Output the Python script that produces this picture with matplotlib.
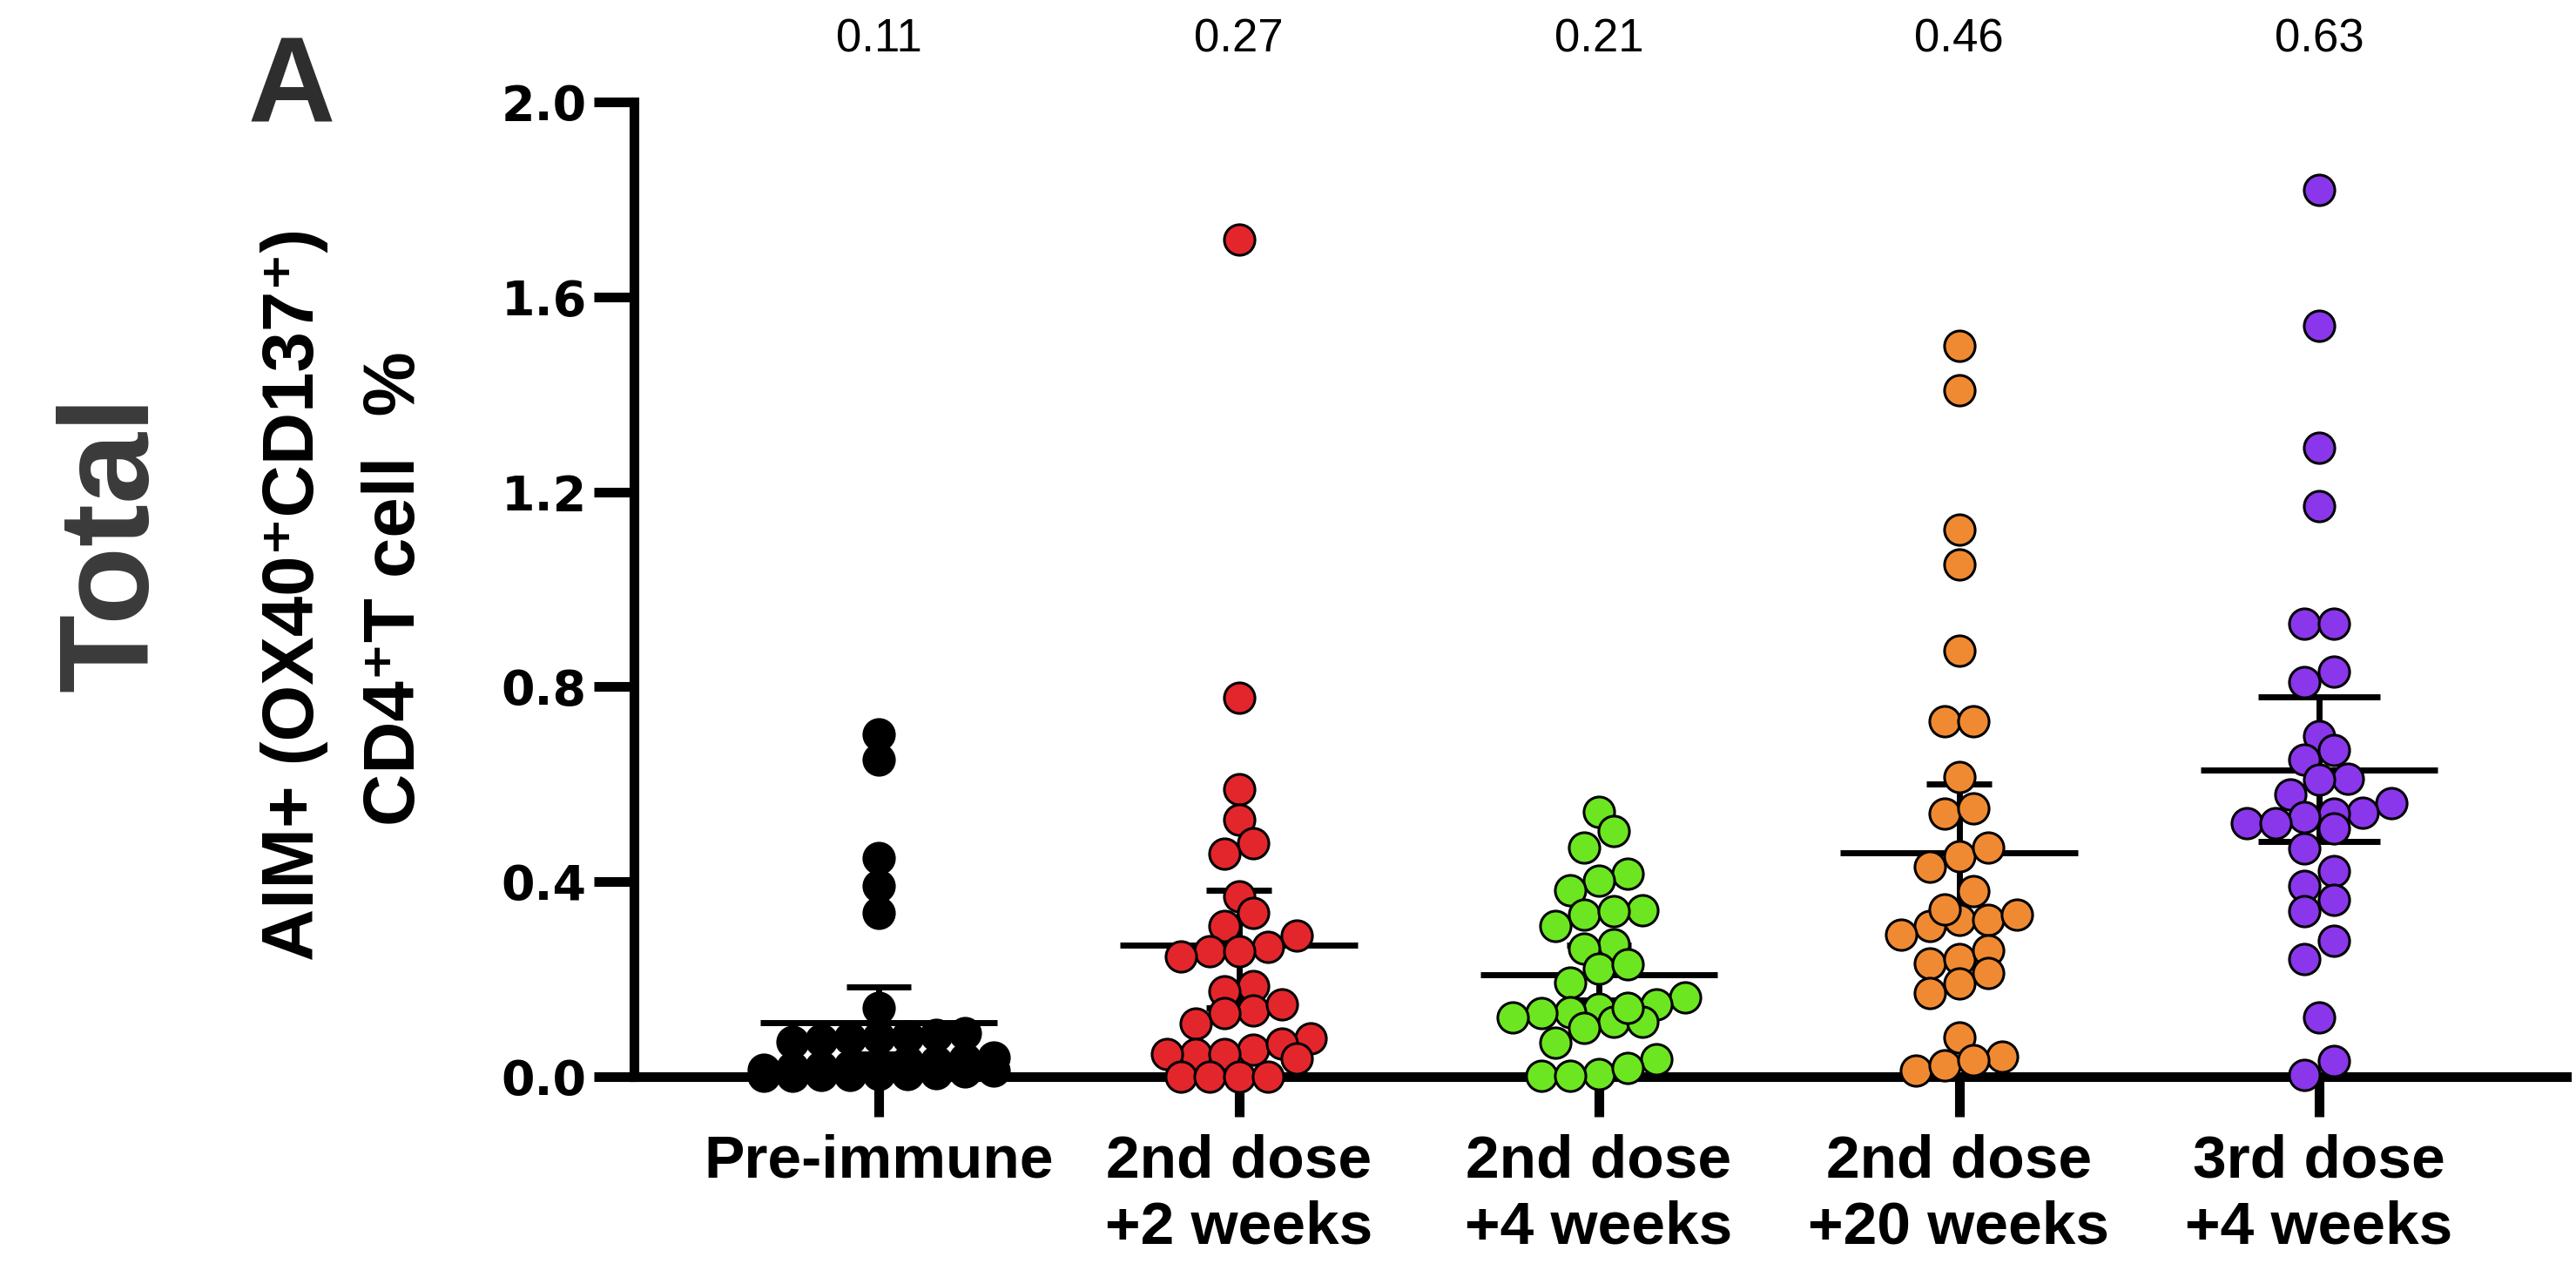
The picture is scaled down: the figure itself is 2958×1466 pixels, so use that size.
import numpy as np
import matplotlib
matplotlib.use("Agg")
import matplotlib.pyplot as plt
import matplotlib.transforms as mtransforms

# ---------------- data ----------------
categories = ["Pre-immune", "2nd dose\n+2 weeks", "2nd dose\n+4 weeks",
              "2nd dose\n+20 weeks", "3rd dose\n+4 weeks"]

pre_immune = [0.703, 0.651, 0.449, 0.392, 0.336, 0.141,
              0.090, 0.085, 0.082, 0.080, 0.078, 0.075, 0.072,
              0.040, 0.035, 0.030, 0.030, 0.025, 0.022, 0.020, 0.018, 0.015,
              0.012, 0.010, 0.008, 0.006, 0.005, 0.004, 0.003, 0.002, 0.001]

dose2_2w = [1.718, 0.778, 0.590, 0.528, 0.479, 0.457, 0.370, 0.336, 0.309, 0.290,
            0.257, 0.266, 0.247, 0.257, 0.185, 0.176, 0.136, 0.131, 0.148, 0.109,
            0.078, 0.056, 0.047, 0.047, 0.046, 0.068, 0.037, 0.0, 0.0, 0.0, 0.0]

dose2_4w = [0.544, 0.504, 0.470, 0.416, 0.403, 0.383, 0.341, 0.332, 0.340, 0.309,
            0.272, 0.262, 0.222, 0.231, 0.193, 0.163, 0.148, 0.139, 0.133, 0.112,
            0.112, 0.130, 0.142, 0.100, 0.121, 0.070, 0.035, 0.005, 0.002, 0.002, 0.017]

dose2_20w = [1.500, 1.408, 1.122, 1.051, 0.874, 0.729, 0.729, 0.615, 0.539, 0.550,
             0.453, 0.470, 0.431, 0.381, 0.321, 0.321, 0.310, 0.332, 0.344, 0.291,
             0.232, 0.241, 0.260, 0.171, 0.191, 0.213, 0.081, 0.042, 0.012, 0.023, 0.034]

dose3_4w = [1.819, 1.540, 1.291, 1.171, 0.930, 0.930, 0.831, 0.810, 0.699, 0.671,
            0.650, 0.612, 0.609, 0.579, 0.561, 0.541, 0.539, 0.533, 0.521, 0.521,
            0.509, 0.469, 0.422, 0.391, 0.362, 0.340, 0.279, 0.241, 0.122, 0.033, 0.004]

groups = [pre_immune, dose2_2w, dose2_4w, dose2_20w, dose3_4w]

means = [0.11, 0.27, 0.21, 0.46, 0.63]
ci_low = [0.046, 0.141, 0.157, 0.316, 0.483]
ci_high = [0.184, 0.383, 0.270, 0.600, 0.779]

colors = ["#000000", "#E3262B", "#6CE620", "#F08A32", "#8A36EB"]
cap_half = [0.09, 0.09, 0.09, 0.09, 0.17]

yticks = [0.0, 0.4, 0.8, 1.2, 1.6, 2.0]

# ---------------- figure ----------------
W, H, DPI = 2958, 1466, 100
fig = plt.figure(figsize=(W / DPI, H / DPI), dpi=DPI)
fig.patch.set_facecolor("white")

left_px, right_px, y0_px, y2_px = 728, 2947, 1236, 117
ax = fig.add_axes([left_px / W, 1 - y0_px / H, (right_px - left_px) / W, (y0_px - y2_px) / H])

cat_px0, cat_step = 1009, 413.5
xl = (left_px - cat_px0) / cat_step
xr = (right_px - cat_px0) / cat_step
ax.set_xlim(xl, xr)
ax.set_ylim(0, 2.0)


def swarm_offsets(vals, bin_h=0.045, step=0.08, max_cols=9):
    vals = np.asarray(vals, dtype=float)
    order = np.argsort(vals, kind="stable")
    offs = np.zeros(len(vals))
    bins, cur, start = [], [], None
    for idx in order:
        v = vals[idx]
        if cur and (v - start >= bin_h or len(cur) >= max_cols):
            bins.append(cur)
            cur = []
        if not cur:
            start = v
        cur.append(idx)
    if cur:
        bins.append(cur)
    for b in bins:
        k = len(b)
        slots = (np.arange(k) - (k - 1) / 2) * step
        for idx, s in zip(b, slots):
            offs[idx] = s
    return offs


mean_half = 0.33
for i, (vals, c) in enumerate(zip(groups, colors)):
    offs = swarm_offsets(vals)
    ax.scatter(i + offs, vals, s=640, c=c, edgecolors="black", linewidths=2.2,
               zorder=4, clip_on=False)
    # mean line
    ax.plot([i - mean_half, i + mean_half], [means[i], means[i]], color="black",
            lw=5, solid_capstyle="butt", zorder=3)
    # error bar (95% CI)
    ax.plot([i, i], [ci_low[i], ci_high[i]], color="black", lw=5, zorder=3)
    for yv in (ci_low[i], ci_high[i]):
        ax.plot([i - cap_half[i], i + cap_half[i]], [yv, yv], color="black",
                lw=5, solid_capstyle="butt", zorder=3)

# spines / ticks
for side in ("top", "right"):
    ax.spines[side].set_visible(False)
for side in ("left", "bottom"):
    ax.spines[side].set_linewidth(8)
    ax.spines[side].set_color("black")
ax.spines["bottom"].set_zorder(2)
ax.spines["left"].set_bounds(0, 2.0)

ax.set_yticks(yticks)
ax.set_yticklabels([f"{t:.1f}" for t in yticks], fontfamily="DejaVu Sans",
                   fontweight="bold", fontsize=40)
ax.set_xticks(range(len(categories)))
ax.set_xticklabels(categories, fontfamily="Liberation Sans", fontweight="bold",
                   fontsize=50, linespacing=1.25)
ax.tick_params(axis="y", length=33, width=8, pad=6, colors="black")
ax.tick_params(axis="x", length=33, width=8, pad=14, colors="black")

# mean values on top
trans = mtransforms.blended_transform_factory(ax.transData, fig.transFigure)
for i, m in enumerate(means):
    ax.text(i, 1 - 60 / H, f"{m:.2f}", transform=trans, ha="center", va="baseline",
            fontfamily="Liberation Sans", fontsize=38, color="black")

# panel letter and row label
fig.text(335 / W, 1 - 141 / H, "A", ha="center", va="baseline",
         fontfamily="Liberation Sans", fontweight="bold", fontsize=100, color="#2e2e2e")
fig.text(169 / W, 1 - 624 / H, "Total", rotation=90, rotation_mode="anchor",
         ha="center", va="baseline", fontfamily="Liberation Sans",
         fontweight="bold", fontsize=106, color="#3a3a3a")

# y axis label (two lines)
fig.text(360 / W, 1 - 682 / H, "AIM+ (OX40\u207aCD137\u207a)", rotation=90,
         rotation_mode="anchor", ha="center", va="baseline",
         family=["Liberation Sans", "DejaVu Sans"], fontweight="bold", fontsize=60)
fig.text(476 / W, 1 - 676 / H, "CD4\u207aT cell  %", rotation=90,
         rotation_mode="anchor", ha="center", va="baseline",
         family=["Liberation Sans", "DejaVu Sans"], fontweight="bold", fontsize=60)

fig.savefig("out.png", dpi=DPI, facecolor="white")
